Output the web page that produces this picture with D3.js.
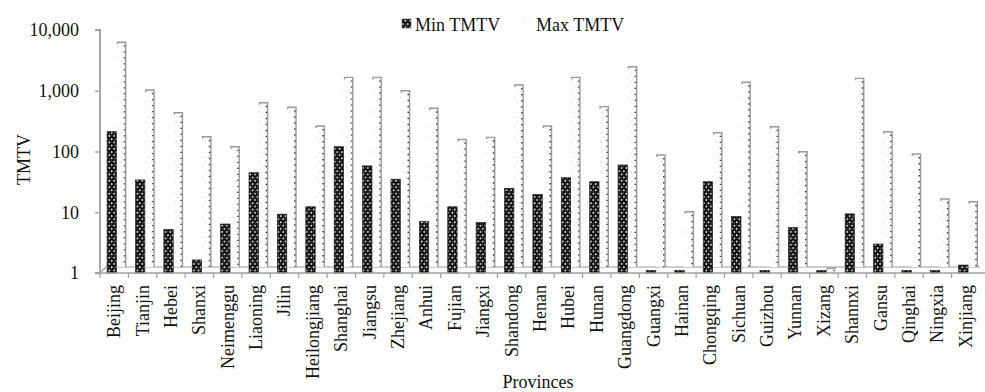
<!DOCTYPE html>
<html>
<head>
<meta charset="utf-8">
<script src="https://cdn.jsdelivr.net/npm/d3@7"></script>
<style>
  html, body { margin: 0; padding: 0; background: #fff; }
  svg { display: block; }
  text { font-family: "Liberation Serif", "Times New Roman", serif; fill: #111; }
</style>
</head>
<body>
<svg id="chart" width="985" height="392"></svg>
<script>
// Provinces and their minimum / maximum TMTV values
const provinces = ["Beijing","Tianjin","Hebei","Shanxi","Neimenggu","Liaoning","Jilin","Heilongjiang",
  "Shanghai","Jiangsu","Zhejiang","Anhui","Fujian","Jiangxi","Shandong","Henan","Hubei","Hunan",
  "Guangdong","Guangxi","Hainan","Chongqing","Sichuan","Guizhou","Yunnan","Xizang","Shannxi",
  "Gansu","Qinghai","Ningxia","Xinjiang"];
const minTMTV = [212, 34, 5.2, 1.64, 6.4, 44.8, 9.3, 12.3, 120, 58, 35, 7, 12.3, 6.8, 24.8, 19.7,
  37, 31.8, 60, 1.1, 1.1, 31.8, 8.5, 1.1, 5.6, 1.1, 9.4, 3.0, 1.1, 1.1, 1.35];
const maxTMTV = [6300, 1030, 435, 175, 120, 635, 534, 263, 1660, 1660, 1000, 515, 158, 171, 1244, 263,
  1660, 547, 2490, 87.5, 10.2, 204, 1377, 256, 99, 1.2, 1600, 212, 91, 16.5, 14.9];
const yTicks = [1, 10, 100, 1000, 10000];
const seriesNames = ["Min TMTV", "Max TMTV"];

const svg = d3.select("#chart");
const plotLeft = 100, plotRight = 980, plotTop = 30, plotBottom = 273;
const floorY = 267;

const x = d3.scaleBand().domain(provinces).range([plotLeft, plotRight]).padding(0);
const y = d3.scaleLog().domain([1, 10000]).range([plotBottom, plotTop]);
const bw = x.bandwidth();

// Fill patterns: chained rings for the minimum, sparse dots for the maximum
const defs = svg.append("defs");
const ring = defs.append("pattern").attr("id", "rings")
  .attr("patternUnits", "userSpaceOnUse").attr("width", 4.7).attr("height", 6.4);
ring.append("rect").attr("width", 4.7).attr("height", 6.4).attr("fill", "#fff");
[[1.2, 1.6], [3.55, 4.8], [-1.15, 4.8], [5.85, 1.6]].forEach(([cx, cy]) => {
  ring.append("ellipse").attr("cx", cx).attr("cy", cy).attr("rx", 1.75).attr("ry", 1.6)
    .attr("fill", "none").attr("stroke", "#000").attr("stroke-width", 1.45);
});
const dots = defs.append("pattern").attr("id", "dots")
  .attr("patternUnits", "userSpaceOnUse").attr("width", 6).attr("height", 10);
dots.append("rect").attr("width", 6).attr("height", 10).attr("fill", "#fff");
dots.append("circle").attr("cx", 1.5).attr("cy", 2).attr("r", 0.6).attr("fill", "#c8c8c8");
dots.append("circle").attr("cx", 4.5).attr("cy", 7).attr("r", 0.6).attr("fill", "#d8d8d8");

// Floor of the plot
svg.append("path")
  .attr("d", `M${plotLeft},${plotBottom} L${plotLeft + 6},${floorY} L${plotRight},${floorY}`)
  .attr("fill", "none").attr("stroke", "#9a9a9a").attr("stroke-width", 1.2);

// Max bars
const maxG = svg.append("g");
provinces.forEach((p, i) => {
  const x0 = x(p) + bw * 0.58, x1 = x(p) + bw * 0.905;
  const yt = y(maxTMTV[i]);
  maxG.append("rect").attr("x", x0).attr("y", yt).attr("width", x1 - x0)
    .attr("height", Math.max(0, floorY - yt)).attr("fill", "url(#dots)");
  maxG.append("path")
    .attr("d", `M${x0 + 1},${yt + 2} L${x0 + 1},${yt} L${x1},${yt} L${x1},${floorY}`)
    .attr("fill", "none").attr("stroke", "#999").attr("stroke-width", 1.4);
  maxG.append("line").attr("x1", x1 - 1.3).attr("x2", x1 - 1.3)
    .attr("y1", yt + 3).attr("y2", floorY)
    .attr("stroke", "#444").attr("stroke-width", 1.5).attr("stroke-dasharray", "1.4,4.6");
});

// Min bars
svg.append("g").selectAll("rect").data(provinces).join("rect")
  .attr("x", d => x(d) + bw * 0.25)
  .attr("width", bw * 0.33)
  .attr("y", (d, i) => y(minTMTV[i]))
  .attr("height", (d, i) => plotBottom - y(minTMTV[i]))
  .attr("fill", "url(#rings)")
  .attr("stroke", "#222").attr("stroke-width", 0.7);

// Y axis
const yAxis = svg.append("g").attr("transform", `translate(${plotLeft},0)`)
  .call(d3.axisLeft(y).tickValues(yTicks).tickFormat(d3.format(",")).tickSize(5).tickPadding(16));
yAxis.select(".domain").attr("stroke", "#a0a0a0").attr("stroke-width", 1.8)
  .attr("d", `M-5,${plotTop}H0V${plotBottom}H-5`);
yAxis.selectAll(".tick line").attr("stroke", "#a0a0a0").attr("stroke-width", 1.3);
yAxis.selectAll(".tick text").attr("font-size", 18).attr("fill", "#111")
  .attr("font-family", "Liberation Serif, serif");

// X axis
const xAxis = svg.append("g").attr("transform", `translate(0,${plotBottom})`)
  .call(d3.axisBottom(x).tickSize(0).tickPadding(0));
xAxis.select(".domain").attr("stroke", "#a0a0a0").attr("stroke-width", 1.5)
  .attr("d", `M${plotLeft},0H985`);
xAxis.selectAll(".tick text")
  .attr("font-size", 18).attr("fill", "#111").attr("font-family", "Liberation Serif, serif")
  .attr("transform", "rotate(-90)")
  .attr("text-anchor", "end").attr("x", -12).attr("y", 0).attr("dy", "0.33em");
// Category separators
svg.append("g").selectAll("line").data(provinces).join("line")
  .attr("x1", d => x(d)).attr("x2", d => x(d))
  .attr("y1", plotBottom).attr("y2", plotBottom + 5)
  .attr("stroke", "#a0a0a0").attr("stroke-width", 1.2);

// Axis titles
svg.append("text").attr("transform", `translate(30,${(plotTop + plotBottom) / 2 + 8}) rotate(-90)`)
  .attr("text-anchor", "middle").attr("font-size", 18).text("TMTV");
svg.append("text").attr("x", 538).attr("y", 388)
  .attr("text-anchor", "middle").attr("font-size", 18).text("Provinces");

// Legend
const legend = svg.append("g");
const legendItems = [{ name: seriesNames[0], sx: 402, fill: "url(#rings)" },
                     { name: seriesNames[1], sx: 523, fill: "url(#dots)" }];
legendItems.forEach(it => {
  legend.append("rect").attr("x", it.sx).attr("y", 19).attr("width", 9).attr("height", 9)
    .attr("fill", it.fill).attr("stroke", it.name === "Min TMTV" ? "#444" : "none").attr("stroke-width", 0.5);
  legend.append("text").attr("x", it.sx + 13).attr("y", 31).attr("font-size", 18).text(it.name);
});
</script>
</body>
</html>
